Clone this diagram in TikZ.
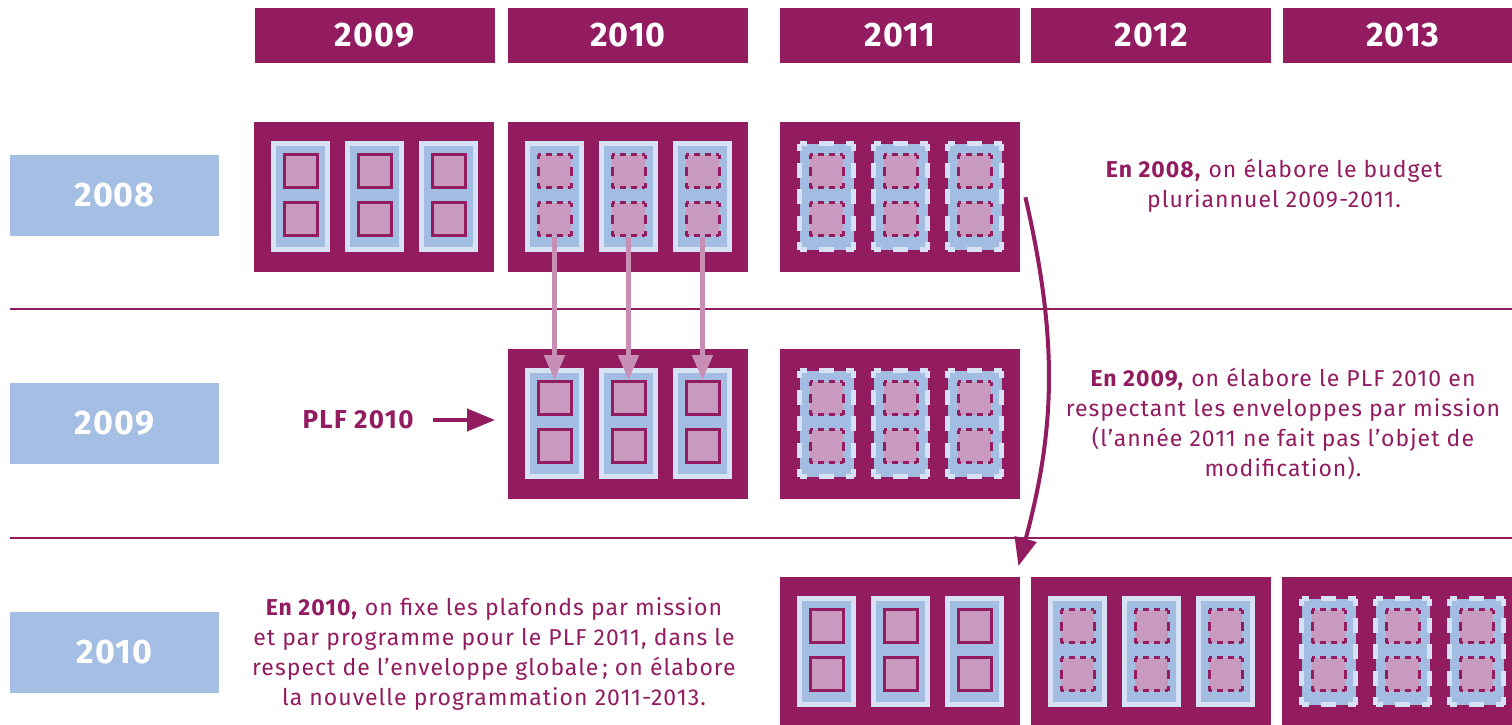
\documentclass[tikz,border=0pt]{standalone}
\usepackage{fontspec}
\setmainfont{Fira Sans}
\usetikzlibrary{arrows.meta,positioning}

\definecolor{prune}{HTML}{931C61}
\definecolor{bleu}{HTML}{A5BFE4}
\definecolor{bleupale}{HTML}{D7E1F4}
\definecolor{bleupil}{HTML}{A3BDE2}
\definecolor{rose}{HTML}{C99ABF}
\definecolor{roseflec}{HTML}{C98EB4}

\tikzset{
  annee/.style={fill=prune, text=white, minimum width=240pt, minimum height=55pt, inner sep=0pt, font=\fontsize{34}{34}\selectfont\bfseries\addfontfeatures{LetterSpace=3}},
  ligne/.style={fill=bleu, text=white, minimum width=209pt, minimum height=81pt, inner sep=0pt, font=\fontsize{34}{34}\selectfont\bfseries\addfontfeatures{LetterSpace=3}},
  bloc/.style={fill=prune, minimum width=240pt, minimum height=150pt, inner sep=0pt, anchor=north west},
  carre/.style={fill=rose, minimum size=33pt, inner sep=0pt, line width=3pt},
  texte/.style={text=prune, align=center, inner sep=0pt, font=\fontsize{23}{30.3}\selectfont\addfontfeatures{LetterSpace=4.5}},
  montee/.style={-{Triangle[length=25pt,width=20pt]}, roseflec, line width=5pt},
  fleche/.style={-{Triangle[length=28pt,width=22pt]}, prune, line width=4pt},
}

% cadre en tirets, cote par cote
\newcommand{\cadre}[7]{%
  \draw[#5,#6] (#1,#2) -- ++(#3,0) (#1,#2+#4) -- ++(#3,0);
  \draw[#5,#7] (#1,#2) -- ++(0,#4) (#1+#3,#2) -- ++(0,#4);
}

% bloc : nom, x, y, genre (0 plein, 1 carres en tirets, 2 tout en tirets)
\newcommand{\bloc}[4]{%
  \node[bloc] (#1) at (#2,#3) {};
  \foreach \i in {1,2,3}{
    \pgfmathsetmacro\px{#2+17+74*(\i-1)}
    \pgfmathsetmacro\py{#3+19}
    \ifnum#4<2
      \filldraw[fill=bleupil, draw=bleupale, line width=5pt] (\px+2.5,\py+2.5) rectangle +(54,106);
    \else
      \fill[bleupil] (\px+2.5,\py+2.5) rectangle +(54,106);
      \cadre{\px+2.5}{\py+2.5}{54}{106}{bleupale, line width=5pt}{dash pattern=on 15pt off 12pt, dash phase=7.5pt}{dash pattern=on 15pt off 11.5pt, dash phase=7.5pt}
    \fi
    \ifnum#4=0
      \node[carre, draw=prune] (#1-\i-t) at (\px+29.5,\py+30) {};
      \node[carre, draw=prune] (#1-\i-b) at (\px+29.5,\py+78) {};
    \else
      \node[carre] (#1-\i-t) at (\px+29.5,\py+30) {};
      \node[carre] (#1-\i-b) at (\px+29.5,\py+78) {};
      \cadre{\px+13}{\py+13.5}{33}{33}{prune, line width=3pt}{dash pattern=on 6pt off 5pt, dash phase=3pt}{dash pattern=on 9pt off 7.5pt, dash phase=4.5pt}
      \cadre{\px+13}{\py+61.5}{33}{33}{prune, line width=3pt}{dash pattern=on 6pt off 5pt, dash phase=3pt}{dash pattern=on 9pt off 7.5pt, dash phase=4.5pt}
    \fi
  }
}

\begin{document}
\begin{tikzpicture}[x=1pt,y=-1pt]
\useasboundingbox (0,0) rectangle (1512,725);

% en-tetes
\node[annee] (a2009) at (374.5,35.5) {2009};
\node[annee] (a2010) at (628,35.5) {2010};
\node[annee] (a2011) at (900,35.5) {2011};
\node[annee] (a2012) at (1151,35.5) {2012};
\node[annee] (a2013) at (1403,35.5) {2013};

% separations
\draw[prune, line width=1.5pt] (10,309) -- (1512,309);
\draw[prune, line width=1.5pt] (10,538) -- (1512,538);

% annees de preparation
\node[ligne] (l2008) at (114.5,195) {2008};
\node[ligne] (l2009) at (114.5,423.5) {2009};
\node[ligne] (l2010) at (114.5,652.5) {2010};

% budgets
\bloc{r1a}{254}{122}{0}
\bloc{r1b}{508}{122}{1}
\bloc{r1c}{780}{122}{2}
\bloc{r2b}{508}{349}{0}
\bloc{r2c}{780}{349}{2}
\bloc{r3c}{780}{577}{0}
\bloc{r3d}{1031}{577}{1}
\bloc{r3e}{1282}{577}{2}

% fleches
\foreach \i in {1,2,3}
  \draw[montee] (r1b-\i-b.south) -- (r2b-\i-t.north);
\node[texte, font=\fontsize{26}{30}\selectfont\bfseries\addfontfeatures{LetterSpace=5}] (plf) at (358,420) {PLF 2010};
\draw[fleche, shorten <=19pt, shorten >=13pt] (plf.east) -- (plf.east -| r2b.west);
\draw[fleche] ([xshift=5pt]r1c.east) to[bend left=14] ([shift={(-2pt,11pt)}]r3c.north east);

% textes
\node[texte] (t2008) at (1274,186) {\textbf{En 2008,} on élabore le budget\\pluriannuel 2009-2011.};
\node[texte] (t2009) at (1283,424) {\textbf{En 2009,} on élabore le PLF 2010 en\\respectant les enveloppes par mission\\(l’année 2011 ne fait pas l’objet de\\modification).};
\node[texte] (t2010) at (494,654) {\textbf{En 2010,} on fixe les plafonds par mission\\et par programme pour le PLF 2011, dans le\\respect de l’enveloppe globale\,; on élabore\\la nouvelle programmation 2011-2013.};
\end{tikzpicture}
\end{document}
